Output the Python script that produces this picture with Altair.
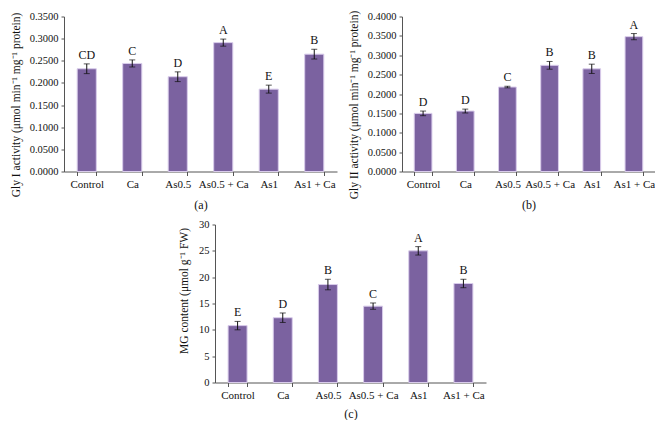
import altair as alt
import pandas as pd

categories = ["Control", "Ca", "As0.5", "As0.5 + Ca", "As1", "As1 + Ca"]

gly1_vals = [0.232, 0.244, 0.214, 0.291, 0.186, 0.265]
gly1_err = [0.011, 0.008, 0.011, 0.008, 0.009, 0.011]
gly1_letters = ["CD", "C", "D", "A", "E", "B"]
gly1_ticks = [0.0, 0.05, 0.10, 0.15, 0.20, 0.25, 0.30, 0.35]

gly2_vals = [0.150, 0.156, 0.218, 0.274, 0.265, 0.348]
gly2_err = [0.006, 0.005, 0.002, 0.010, 0.012, 0.008]
gly2_letters = ["D", "D", "C", "B", "B", "A"]
gly2_ticks = [0.0, 0.05, 0.10, 0.15, 0.20, 0.25, 0.30, 0.35, 0.40]

mg_vals = [10.8, 12.3, 18.6, 14.5, 25.0, 18.8]
mg_err = [0.8, 0.9, 1.0, 0.6, 0.8, 0.8]
mg_letters = ["E", "D", "B", "C", "A", "B"]
mg_ticks = [0, 5, 10, 15, 20, 25, 30]

FONT = "Liberation Serif"
BAR = "#7B62A0"


def panel(vals, errs, letters, ticks, fmt, ytitle, xtitle, w, h, xtp, ty, tfs, ytp):
    ymax = ticks[-1]
    df = pd.DataFrame({
        "cat": categories,
        "v": vals,
        "lo": [v - e for v, e in zip(vals, errs)],
        "hi": [v + e for v, e in zip(vals, errs)],
        "lab": letters,
    })
    xax = alt.Axis(labelAngle=0, tickBand="extent", tickSize=4,
                   domainColor="#555", tickColor="#555",
                   labelFont=FONT, labelFontSize=11, labelColor="#111",
                   titleFont=FONT, titleFontSize=12, titleFontWeight="normal",
                   titleColor="#111", titlePadding=xtp, labelPadding=3)
    xs = alt.Scale(paddingInner=0.58, paddingOuter=0.29)
    x = alt.X("cat:N", sort=categories, title=xtitle, scale=xs, axis=xax)
    ys = alt.Scale(domain=[0, ymax], nice=False)
    yax = alt.Axis(values=ticks, format=fmt, grid=False, tickSize=3,
                   labelOverlap=False,
                   domainColor="#555", tickColor="#555",
                   labelFont=FONT, labelFontSize=10.5, labelColor="#111",
                   labelPadding=3,
                   titleFont=FONT, titleFontSize=tfs, titleFontWeight="normal",
                   titleColor="#111", titlePadding=ytp, titleY=ty)
    base = alt.Chart(df)
    bars = base.mark_bar(color=BAR, stroke="#D9CCEB", strokeWidth=1).encode(
        x=x, y=alt.Y("v:Q", scale=ys, title=ytitle, axis=yax))
    rule = base.mark_rule(color="#111", strokeWidth=1).encode(
        x=x, y=alt.Y("lo:Q", scale=ys, title=ytitle, axis=yax), y2="hi:Q")
    tlo = base.mark_tick(color="#111", size=6, thickness=1, orient="horizontal").encode(
        x=x, y=alt.Y("lo:Q", scale=ys, title=ytitle, axis=yax))
    thi = base.mark_tick(color="#111", size=6, thickness=1, orient="horizontal").encode(
        x=x, y=alt.Y("hi:Q", scale=ys, title=ytitle, axis=yax))
    txt = base.mark_text(font=FONT, fontSize=12, color="#111", baseline="bottom", dy=-2).encode(
        x=x, y=alt.Y("hi:Q", scale=ys, title=ytitle, axis=yax), text="lab:N")
    return alt.layer(bars, rule, tlo, thi, txt).properties(width=w, height=h)


a = panel(gly1_vals, gly1_err, gly1_letters, gly1_ticks, ".4f",
          "Gly I activity (μmol min⁻¹ mg⁻¹ protein)", "(a)", 273, 155, 10, 88, 11.5, 8)
b = panel(gly2_vals, gly2_err, gly2_letters, gly2_ticks, ".4f",
          "Gly II activity (μmol min⁻¹ mg⁻¹ protein)", "(b)", 253, 155, 10, 88, 11.5, 8)
c = panel(mg_vals, mg_err, mg_letters, mg_ticks, "d",
          "MG content (μmol g⁻¹ FW)", "(c)", 271, 158, 8, 66, 11.5, 9)

spacer = alt.Chart(pd.DataFrame({"z": [0]})).mark_point(opacity=0).properties(width=18, height=158)

top = alt.hconcat(a, b, spacing=11)
bottom = alt.hconcat(c, spacer, spacing=0)
chart = alt.vconcat(top, bottom, spacing=9, center=True).configure_view(stroke=None).properties(
    padding={"left": 2, "top": 1.5, "right": 0, "bottom": 0})

chart.save("out.html", embed_options={"renderer": "svg", "actions": False})
